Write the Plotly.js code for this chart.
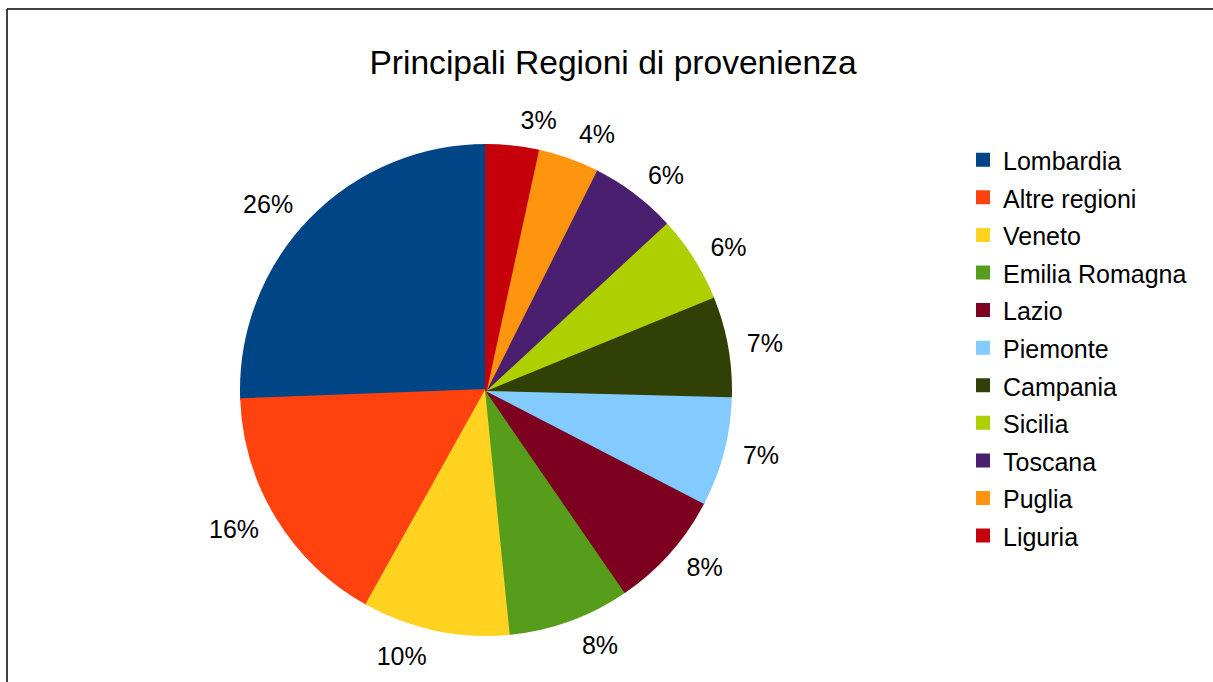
<!DOCTYPE html>
<html>
<head>
<meta charset="utf-8">
<script src="https://cdn.plot.ly/plotly-3.0.1.min.js"></script>
<style>
  html, body { margin: 0; padding: 0; background: #fff; }
  #chart { width: 1213px; height: 682px; }
</style>
</head>
<body>
<div id="chart"></div>
<script>
const regions = ["Lombardia", "Altre regioni", "Veneto", "Emilia Romagna", "Lazio", "Piemonte", "Campania", "Sicilia", "Toscana", "Puglia", "Liguria"];
const shares = [25.6, 16.3, 9.7, 8.0, 7.8, 7.2, 6.6, 5.7, 5.7, 4.0, 3.4];
const colors = ["#004586", "#ff420e", "#ffd320", "#579d1c", "#7e0021", "#83caff", "#314004", "#aecf00", "#4b1f6f", "#ff950e", "#c5000b"];
const chartTitle = "Principali Regioni di provenienza";

const W = 1213, H = 682;
const cx = 486, cy = 390, R = 245, RL = 258;
const FONT = "Liberation Sans, Arial, sans-serif";

// Plotly's counterclockwise layout ends the first slice at the rotation angle;
// shift so the first slice starts at 12 o'clock like the original.
const total = shares.reduce((a, b) => a + b, 0);
const rot = -360 * shares[0] / total;
const last = regions.length - 1;

function domainFor(r) {
  return { x: [(cx - r) / W, (cx + r) / W], y: [(H - cy - r) / H, (H - cy + r) / H] };
}
const legendLabels = regions.map(r => '<span style="font-size:25px">' + r + '</span>');

const pieTrace = {
  type: "pie",
  labels: legendLabels,
  values: shares,
  sort: false,
  direction: "counterclockwise",
  rotation: rot,
  textinfo: "none",
  marker: { colors: colors, line: { color: colors, width: 2 } },
  domain: domainFor(R),
  hoverinfo: "label+percent"
};

// Transparent companion pies that only carry the percentage labels
// (split in two so Plotly does not stack the two smallest top labels).
function labelPie(showIdx) {
  return {
    type: "pie",
    labels: legendLabels,
    values: shares,
    sort: false,
    direction: "counterclockwise",
    rotation: rot,
    textposition: "outside",
    textinfo: "percent",
    texttemplate: regions.map((r, i) => showIdx(i) ? "%{percent:.0%}" : ""),
    outsidetextfont: { family: FONT, size: 25, color: "#000" },
    marker: { colors: regions.map(() => "rgba(0,0,0,0)"), line: { width: 0 } },
    domain: domainFor(RL),
    showlegend: false,
    hoverinfo: "skip"
  };
}

const layout = {
  width: W, height: H,
  margin: { l: 0, r: 0, t: 0, b: 0 },
  paper_bgcolor: "#fff",
  font: { family: FONT, color: "#000" },
  title: {
    text: chartTitle,
    font: { family: FONT, size: 33.6, color: "#000" },
    x: 613 / W, xanchor: "center",
    y: (H - 62) / H, yanchor: "middle"
  },
  showlegend: true,
  legend: {
    x: 963 / W, xanchor: "left",
    y: (H - 136) / H, yanchor: "top",
    font: { family: FONT, size: 26.6, color: "#000" },
    bgcolor: "rgba(0,0,0,0)",
    traceorder: "normal"
  },
  shapes: [
    { type: "line", xref: "paper", yref: "paper", x0: 7 / W, x1: 7 / W, y0: 0, y1: (H - 9) / H, line: { color: "#000", width: 1.5 } },
    { type: "line", xref: "paper", yref: "paper", x0: 7 / W, x1: 1, y0: (H - 9) / H, y1: (H - 9) / H, line: { color: "#000", width: 1.5 } }
  ]
};

Plotly.newPlot("chart", [pieTrace, labelPie(i => i !== last), labelPie(i => i === last)], layout, { displayModeBar: false, staticPlot: true });
</script>
</body>
</html>
